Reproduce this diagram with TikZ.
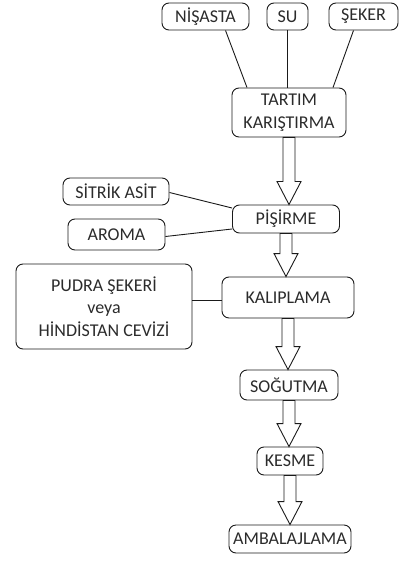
\documentclass[tikz,border=0pt]{standalone}
\usepackage{fontspec}
\setmainfont{Carlito}
\usepackage{tikz}
\usetikzlibrary{calc}
\definecolor{ink}{HTML}{1A1A1A}
\definecolor{word}{HTML}{2B2B2B}
\tikzset{
  box/.style={draw=ink, line width=0.9pt, rounded corners=7pt, align=center,
    inner sep=0pt, text=word, font=\fontsize{18}{22.5}\selectfont},
  feed/.style={draw=ink, line width=0.9pt},
  hollow/.style={draw=ink, line width=0.9pt, fill=white}
}
% hollow block arrow from the bottom of #1 to the top of #2
\newcommand{\flowarrow}[2]{%
  \draw[hollow] let \p1=(#1.south), \p2=(#2.north) in
    (\x1-6pt,\y1) -- (\x1+6pt,\y1) -- (\x1+6pt,\y2+23pt) -- (\x1+12pt,\y2+23pt)
    -- (\x1,\y2) -- (\x1-12pt,\y2+23pt) -- (\x1-6pt,\y2+23pt) -- cycle;}

\begin{document}
\begin{tikzpicture}[x=1pt, y=-1pt]
  \useasboundingbox (0,0) rectangle (408,569);

  \node[box, minimum width=87, minimum height=27] (nisasta) at (205.5,16.5) {NİŞASTA};
  \node[box, minimum width=41, minimum height=27] (su) at (287.5,16.5) {SU};
  \node[box, minimum width=69, minimum height=27] (seker) at (363.5,16.5) {ŞEKER};
  \node[box, minimum width=114, minimum height=49] (tartim) at (289,112.5) {TARTIM\\KARIŞTIRMA};

  \node[box, minimum width=106, minimum height=27] (sitrik) at (116,191.5) {SİTRİK ASİT};
  \node[box, minimum width=97, minimum height=31] (aroma) at (116.5,234.5) {AROMA};
  \node[box, minimum width=107, minimum height=28] (pisirme) at (286,219) {PİŞİRME};

  \node[box, minimum width=176, minimum height=85] (pudra) at (104,306.5) {PUDRA ŞEKERİ\\veya\\HİNDİSTAN CEVİZİ};
  \node[box, minimum width=132, minimum height=41] (kalip) at (288,297.5) {KALIPLAMA};

  \node[box, minimum width=98, minimum height=30] (sogutma) at (289,385) {SOĞUTMA};
  \node[box, minimum width=66, minimum height=28] (kesme) at (290,461) {KESME};
  \node[box, minimum width=122, minimum height=28] (ambalaj) at (290,539) {AMBALAJLAMA};

  % inputs
  \draw[feed] ([xshift=20pt]nisasta.south) -- ([xshift=-42pt]tartim.north);
  \draw[feed] (su.south) -- (su.south |- tartim.north);
  \draw[feed] ([xshift=-10pt]seker.south) -- ([xshift=44pt]tartim.north);
  \draw[feed] ([yshift=-1pt]sitrik.east) -- ([yshift=11pt]pisirme.west);
  \draw[feed] ([yshift=-2pt]aroma.east) -- ([yshift=-10pt]pisirme.west);
  \draw[feed] ([yshift=-3pt]kalip.west) -- ([yshift=-3pt]kalip.west -| pudra.east);

  % main flow
  \flowarrow{tartim}{pisirme}
  \flowarrow{pisirme}{kalip}
  \flowarrow{kalip}{sogutma}
  \flowarrow{sogutma}{kesme}
  \flowarrow{kesme}{ambalaj}
\end{tikzpicture}
\end{document}
